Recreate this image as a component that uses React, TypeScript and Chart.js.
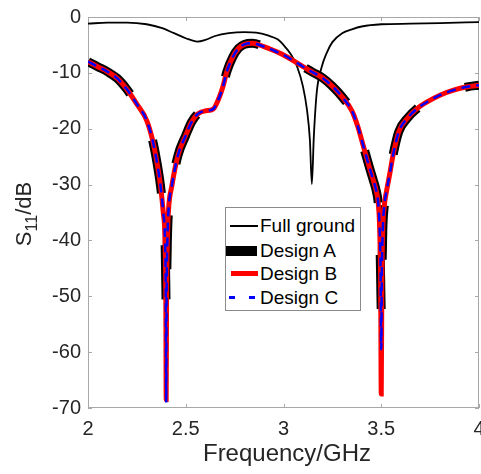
import React, { useEffect, useRef } from "react";
import { Chart, registerables } from "chart.js";

Chart.register(...registerables);

// ---------- data ----------
const designFreq = [
  2.0, 2.05, 2.1, 2.15, 2.2, 2.25, 2.3, 2.33, 2.35, 2.37, 2.385, 2.394, 2.398, 2.4, 2.402, 2.406, 2.412, 2.428,
  2.46, 2.5, 2.53, 2.56, 2.6, 2.64, 2.67, 2.69, 2.71, 2.74, 2.77, 2.8, 2.84, 2.9, 2.95, 3.0, 3.05, 3.1, 3.15,
  3.2, 3.25, 3.3, 3.35, 3.38, 3.41, 3.44, 3.46, 3.475, 3.485, 3.492, 3.497, 3.5, 3.503, 3.508, 3.515, 3.528,
  3.545, 3.56, 3.59, 3.637, 3.68, 3.73, 3.8, 3.87, 3.94, 4.0,
];
const designB = [
  -8.0, -8.9, -9.8, -11.0, -13.0, -15.6, -18.5, -22.0, -25.5, -30.0, -35.0, -40.0, -50.0, -68.5, -50.0, -40.0, -34.5, -30.4,
  -24.8, -21.2, -18.8, -17.4, -16.8, -16.5, -14.5, -12.5, -9.8, -7.2, -5.6, -4.9, -4.7, -5.3, -6.0, -6.8, -7.8, -8.9, -9.9,
  -10.9, -12.4, -14.3, -16.8, -19.6, -23.3, -27.0, -29.3, -31.2, -33.5, -38.0, -48.0, -67.5, -48.0, -38.0, -34.0, -31.0,
  -27.8, -24.8, -20.5, -18.0, -16.5, -15.3, -14.0, -13.1, -12.5, -12.2,
];
const designA = [
  -8.0, -8.9, -9.8, -11.0, -13.0, -15.6, -18.5, -22.0, -25.5, -30.0, -35.0, -40.0, -48.0, -52.5, -48.0, -40.0, -34.5, -30.4,
  -24.8, -21.2, -18.8, -17.4, -16.8, -16.5, -14.5, -12.5, -9.8, -7.2, -5.6, -4.9, -4.7, -5.3, -6.0, -6.8, -7.8, -8.9, -9.9,
  -10.9, -12.4, -14.3, -16.8, -19.6, -23.3, -27.0, -29.3, -31.2, -33.5, -38.0, -47.0, -52.5, -47.0, -38.0, -34.0, -31.0,
  -27.8, -24.8, -20.5, -18.0, -16.5, -15.3, -14.0, -13.1, -12.5, -12.2,
];
const designC = [
  -8.0, -8.9, -9.8, -11.0, -13.0, -15.6, -18.5, -22.0, -25.5, -30.0, -35.0, -40.0, -50.0, -69.0, -50.0, -40.0, -34.5, -30.4,
  -24.8, -21.2, -18.8, -17.4, -16.8, -16.5, -14.5, -12.5, -9.8, -7.2, -5.6, -4.9, -4.7, -5.3, -6.0, -6.8, -7.8, -8.9, -9.9,
  -10.9, -12.4, -14.3, -16.8, -19.6, -23.3, -27.0, -29.3, -31.2, -33.5, -38.0, -46.0, -59.5, -46.0, -38.0, -34.0, -31.0,
  -27.8, -24.8, -20.5, -18.0, -16.5, -15.3, -14.0, -13.1, -12.5, -12.2,
];
const groundFreq = [
  2.0, 2.1, 2.2, 2.3, 2.38, 2.44, 2.5, 2.56, 2.6, 2.65, 2.72, 2.8, 2.86, 2.92, 2.97, 3.0, 3.04, 3.07, 3.1, 3.12,
  3.135, 3.145, 3.155, 3.17, 3.195, 3.22, 3.25, 3.3, 3.35, 3.4, 3.5, 3.65, 3.8, 4.0,
];
const groundS11 = [
  -1.2, -1.0, -1.0, -1.3, -2.0, -2.9, -3.8, -4.4, -4.1, -3.4, -2.9, -2.7, -2.8, -3.3, -4.0, -5.0, -6.8, -8.9, -12.5, -16.6,
  -22.0, -29.9, -21.5, -13.5, -9.0, -6.5, -4.5, -2.9, -2.2, -1.7, -1.3, -1.2, -1.1, -0.9,
];
const xTicks = [2, 2.5, 3, 3.5, 4];
const yTicks = [0, -10, -20, -30, -40, -50, -60, -70];
const seriesNames = ["Full ground", "Design A", "Design B", "Design C"];

const FONT = "'Liberation Sans', Arial, Helvetica, sans-serif";
const TEXT = "#262626";

function pts(xs: number[], ys: number[]) {
  return xs.map((x, i) => ({ x, y: ys[i] }));
}

const boxPlugin = {
  id: "matlabBox",
  beforeDatasetsDraw(chart: any) {
    const { ctx, chartArea: a, scales } = chart;
    ctx.save();
    ctx.strokeStyle = "#a8a8a8";
    ctx.lineWidth = 1;
    ctx.strokeRect(a.left + 0.5, a.top + 0.5, a.right - a.left - 1, a.bottom - a.top - 1);
    ctx.beginPath();
    for (const v of xTicks) {
      const px = Math.round(scales.x.getPixelForValue(v)) + 0.5;
      ctx.moveTo(px, a.bottom);
      ctx.lineTo(px, a.bottom - 4);
      ctx.moveTo(px, a.top);
      ctx.lineTo(px, a.top + 4);
    }
    for (const v of yTicks) {
      const py = Math.round(scales.y.getPixelForValue(v)) + 0.5;
      ctx.moveTo(a.left, py);
      ctx.lineTo(a.left + 4, py);
      ctx.moveTo(a.right, py);
      ctx.lineTo(a.right - 4, py);
    }
    ctx.stroke();
    ctx.restore();
  },
};

function Legend() {
  const row = (top: number): React.CSSProperties => ({
    position: "absolute",
    left: 0,
    top,
    height: 24,
    width: 135,
  });
  const label: React.CSSProperties = {
    position: "absolute",
    left: 34,
    top: 0,
    lineHeight: "24px",
    fontSize: 19,
    fontFamily: FONT,
    color: "#000",
    whiteSpace: "nowrap",
  };
  return (
    <div
      style={{
        position: "absolute",
        left: 225,
        top: 207,
        width: 134,
        height: 102,
        border: "1px solid #8a8a8a",
        background: "#fff",
      }}
    >
      <div style={row(6)}>
        <div style={{ position: "absolute", left: 4, top: 11, width: 28, height: 2, background: "#000" }} />
        <div style={label}>{seriesNames[0]}</div>
      </div>
      <div style={row(31)}>
        <div style={{ position: "absolute", left: 0, top: 7, width: 31, height: 10, background: "#000" }} />
        <div style={label}>{seriesNames[1]}</div>
      </div>
      <div style={row(54)}>
        <div style={{ position: "absolute", left: 5, top: 9, width: 27, height: 5, background: "#ff0000" }} />
        <div style={label}>{seriesNames[2]}</div>
      </div>
      <div style={row(78)}>
        <div style={{ position: "absolute", left: 3, top: 10, width: 6, height: 3, background: "#0000ff" }} />
        <div style={{ position: "absolute", left: 23, top: 10, width: 6, height: 3, background: "#0000ff" }} />
        <div style={label}>{seriesNames[3]}</div>
      </div>
    </div>
  );
}

export default function App() {
  const canvasRef = useRef<HTMLCanvasElement | null>(null);

  useEffect(() => {
    if (!canvasRef.current) return;
    const chart = new Chart(canvasRef.current, {
      type: "line",
      data: {
        datasets: [
          {
            label: seriesNames[3],
            data: pts(designFreq, designC),
            borderColor: "#0000ff",
            borderWidth: 2.5,
            borderDash: [9, 6],
            order: 0,
          },
          {
            label: seriesNames[2],
            data: pts(designFreq, designB),
            borderColor: "#ff0000",
            borderWidth: 5,
            order: 1,
          },
          {
            label: seriesNames[1],
            data: pts(designFreq, designA),
            borderColor: "#000000",
            borderWidth: 9,
            borderDash: [54, 52],
            borderCapStyle: "butt",
            order: 2,
          },
          {
            label: seriesNames[0],
            data: pts(groundFreq, groundS11),
            borderColor: "#000000",
            borderWidth: 1.8,
            order: 3,
          },
        ] as any,
      },
      options: {
        animation: false,
        responsive: false,
        events: [],
        plugins: { legend: { display: false }, tooltip: { enabled: false } },
        elements: {
          point: { radius: 0 },
          line: { cubicInterpolationMode: "monotone", fill: false },
        },
        layout: { padding: { left: 0, right: 2, top: 17, bottom: 0 } },
        scales: {
          x: {
            type: "linear",
            min: 2,
            max: 4,
            grid: { display: false, drawTicks: false },
            border: { display: false },
            ticks: {
              stepSize: 0.5,
              padding: 9,
              color: TEXT,
              font: { family: FONT, size: 20 },
              maxRotation: 0,
              autoSkip: false,
              callback: (v: any) => String(v),
            },
            afterFit: (s: any) => {
              s.height = 66;
              s.paddingLeft = 0;
              s.paddingRight = 0;
            },
          },
          y: {
            type: "linear",
            min: -70,
            max: 0,
            grid: { display: false, drawTicks: false },
            border: { display: false },
            ticks: {
              stepSize: 10,
              padding: 7,
              color: TEXT,
              font: { family: FONT, size: 20 },
              callback: (v: any) => String(v),
            },
            afterFit: (s: any) => {
              s.width = 88;
              s.paddingTop = 0;
              s.paddingBottom = 0;
            },
          },
        },
      } as any,
      plugins: [boxPlugin],
    });
    return () => chart.destroy();
  }, []);

  return (
    <div
      style={{
        position: "absolute",
        left: 0,
        top: 0,
        width: 481,
        height: 474,
        overflow: "hidden",
        background: "#fff",
      }}
    >
      <canvas ref={canvasRef} width={481} height={474} style={{ display: "block" }} />
      <div
        style={{
          position: "absolute",
          left: 187,
          top: 441,
          width: 200,
          textAlign: "center",
          fontFamily: FONT,
          fontSize: 24,
          lineHeight: "24px",
          color: TEXT,
          whiteSpace: "nowrap",
        }}
      >
        Frequency/GHz
      </div>
      <div
        style={{
          position: "absolute",
          left: -36,
          top: 202,
          width: 120,
          height: 24,
          transform: "rotate(-90deg)",
          transformOrigin: "50% 50%",
          textAlign: "center",
          fontFamily: FONT,
          fontSize: 22,
          lineHeight: "24px",
          color: TEXT,
          whiteSpace: "nowrap",
        }}
      >
        S<span style={{ fontSize: 16, position: "relative", top: 6 }}>11</span>/dB
      </div>
      <Legend />
    </div>
  );
}
